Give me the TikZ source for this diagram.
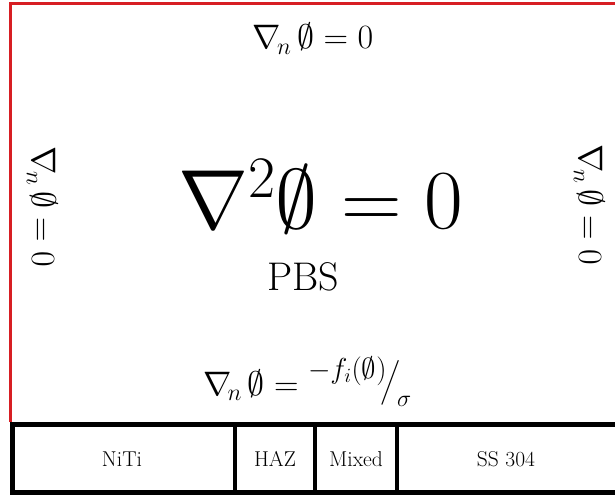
\RequirePackage{fix-cm}
\documentclass[tikz,border=0pt]{standalone}
\usepackage{amsmath}
\usepackage{graphicx}
\begin{document}
\begin{tikzpicture}[x=1pt,y=-1pt,
  eqs/.style={inner sep=0pt,font=\fontsize{34}{38}\selectfont},
  cell/.style={inner sep=0pt,font=\fontsize{21.5}{24}\selectfont},
  redline/.style={draw={rgb,255:red,215;green,30;blue,35},line width=3pt},
  blk/.style={draw=black,line width=5pt}]
\useasboundingbox (0,0) rectangle (615,497);
% red domain border
\coordinate (rb) at (10.5,422);
\coordinate (rtl) at (10.5,3.5);
\coordinate (rtr) at (617,3.5);
\draw[redline] (rb) -- (rtl) -- (rtr);
% black strip
\coordinate (btr) at (617,424);
\coordinate (btl) at (12.5,424);
\coordinate (bbl) at (12.5,492.5);
\coordinate (bbr) at (617,492.5);
\draw[blk,line cap=rect] (btr) -- (btl) -- (bbl) -- (bbr);
\foreach \x/\n in {235/a,315/b,397/c}{
  \coordinate (d\n t) at (\x,424);
  \coordinate (d\n b) at (\x,492.5);
  \draw[draw=black,line width=3.5pt] (d\n t) -- (d\n b);
}
% equations
\node[eqs,anchor=base] (top) at (313,49) {$\nabla_{\!n}\,\emptyset = 0$};
\node[eqs,anchor=base,rotate=-90] (left) at (32,207) {$\nabla_{\!n}\,\emptyset = 0$};
\node[eqs,anchor=base,rotate=-90] (right) at (579,205) {$\nabla_{\!n}\,\emptyset = 0$};
\node[inner sep=0pt,anchor=base west,font=\fontsize{84}{90}\selectfont] (main) at (178,228) {$\nabla^2\emptyset = 0$};
\node[inner sep=0pt,anchor=base,font=\fontsize{40}{46}\selectfont] (pbs) at (303,290) {PBS};
\node[eqs,anchor=base west] (bot) at (203,395) {$\nabla_{\!n}\,\emptyset = \raisebox{0.5em}{\scalebox{0.85}{$-f_i(\emptyset)$}}\!\raisebox{0.1em}{$\big/$}_{\!\sigma}$};
% cells
\node[cell,anchor=base] (niti) at (122,466) {NiTi};
\node[cell,anchor=base] (haz) at (275,466) {HAZ};
\node[cell,anchor=base] (mix) at (356,466) {Mixed};
\node[cell,anchor=base] (ss) at (506,466) {SS 304};
\end{tikzpicture}
\end{document}
